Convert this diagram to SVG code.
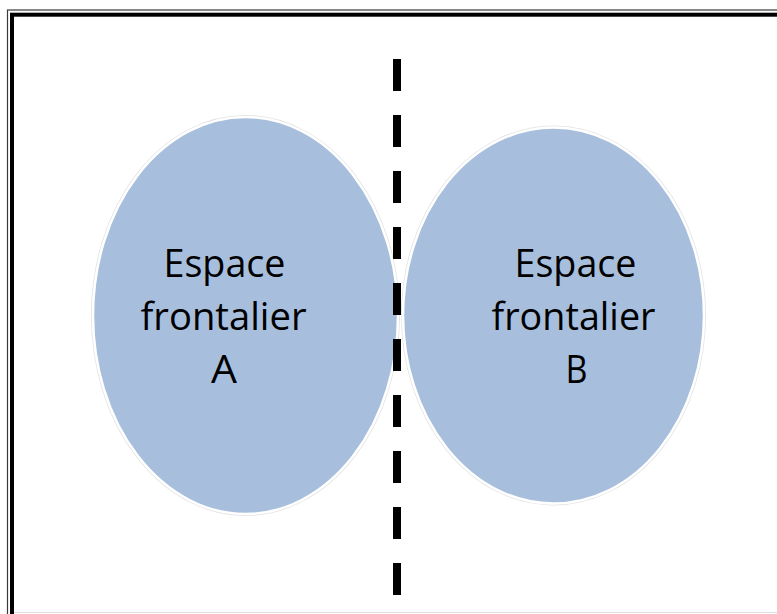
<svg xmlns="http://www.w3.org/2000/svg" width="777" height="614" viewBox="0 0 777 614">
  <style>
    .halo { fill: none; stroke: #e2e2e2; stroke-width: 4; }
    .zone { fill: #a7bfdd; stroke: #ffffff; stroke-width: 2.5; }
    .lbl { font-family: "Open Sans", "Liberation Sans", sans-serif; font-size: 39px; fill: #000000; text-anchor: middle; }
    .border-thin { fill: none; stroke: #3a3a3a; stroke-width: 1.2; }
    .border-thick { fill: none; stroke: #000000; stroke-width: 4; }
  </style>
  <rect x="0" y="0" width="777" height="614" fill="#ffffff"/>
  <g id="frame">
    <rect class="border-thin" x="7.5" y="10" width="800" height="640"/>
    <rect class="border-thick" x="12" y="14.7" width="800" height="640"/>
    <line x1="14" y1="612.5" x2="777" y2="612.5" stroke="#dddddd" stroke-width="1"/>
  </g>
  <g id="espace-a">
    <ellipse class="halo" cx="245.5" cy="315.5" rx="152.5" ry="198.5"/>
    <ellipse class="zone" cx="245.5" cy="315.5" rx="152.5" ry="198.5"/>
    <text class="lbl" x="224.5" y="276.5" textLength="122" lengthAdjust="spacingAndGlyphs">Espace</text>
    <text class="lbl" x="223.5" y="329.5" textLength="166" lengthAdjust="spacingAndGlyphs">frontalier</text>
    <text class="lbl" x="224" y="382.5" textLength="26" lengthAdjust="spacingAndGlyphs">A</text>
  </g>
  <g id="espace-b">
    <ellipse class="halo" cx="553.5" cy="315.5" rx="150.5" ry="188"/>
    <ellipse class="zone" cx="553.5" cy="315.5" rx="150.5" ry="188"/>
    <text class="lbl" x="575.5" y="276.5" textLength="122" lengthAdjust="spacingAndGlyphs">Espace</text>
    <text class="lbl" x="573.5" y="329.5" textLength="164" lengthAdjust="spacingAndGlyphs">frontalier</text>
    <text class="lbl" x="576.5" y="382.5" textLength="22" lengthAdjust="spacingAndGlyphs">B</text>
  </g>
  <g id="connectors">
    <line x1="397" y1="59" x2="397" y2="595" stroke="#000000" stroke-width="8" stroke-dasharray="32 24"/>
  </g>
</svg>
